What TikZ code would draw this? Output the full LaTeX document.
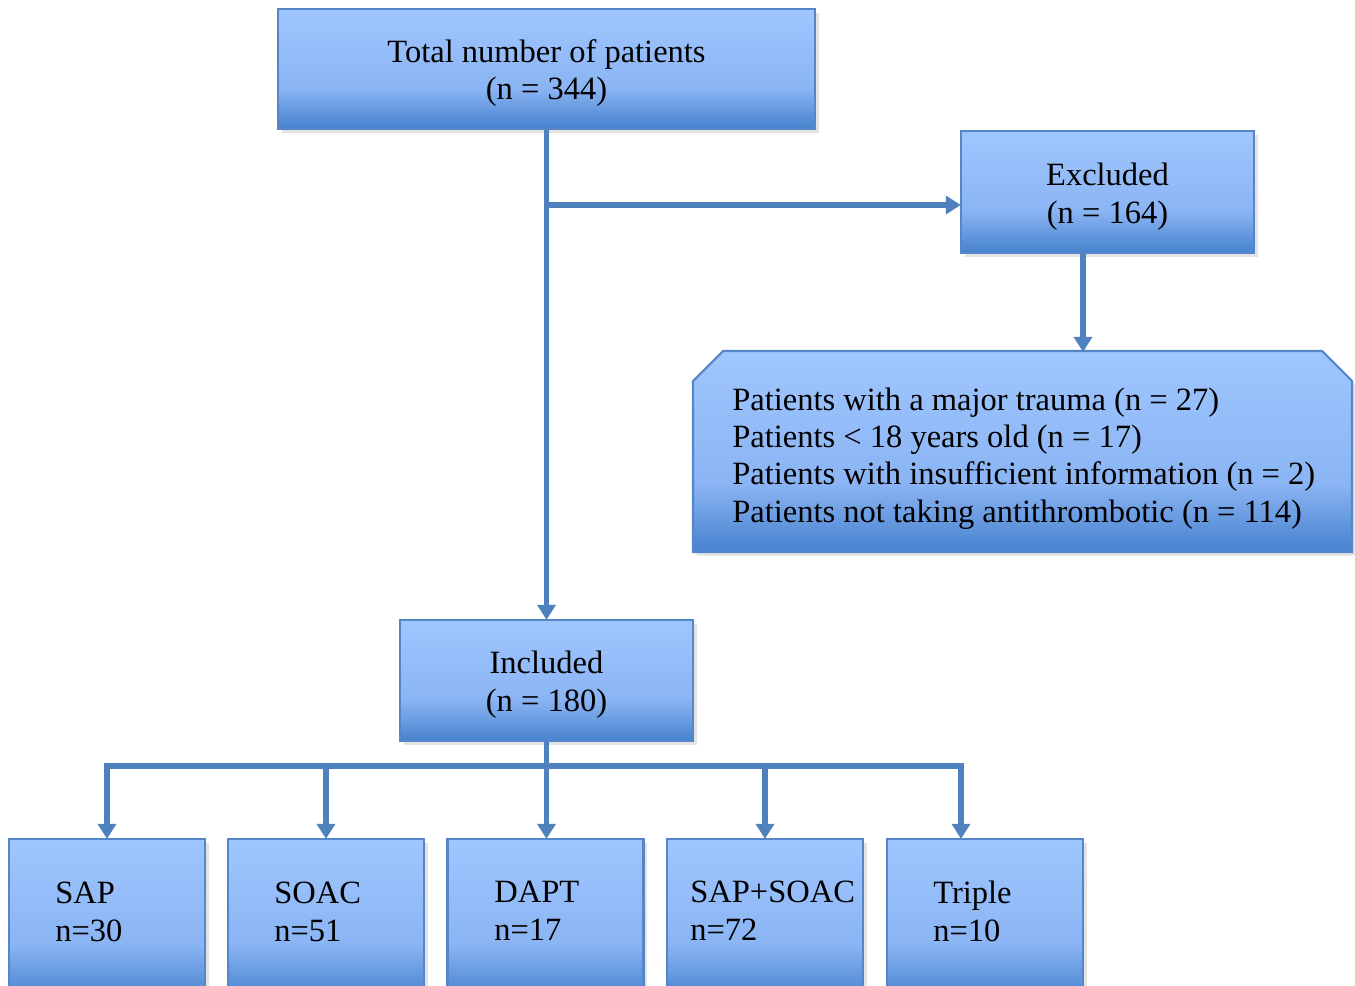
\documentclass[tikz,border=0pt]{standalone}
\usepackage{fontspec}
\setmainfont{Liberation Serif}
\usetikzlibrary{arrows.meta,shadows}
\definecolor{lineblue}{RGB}{79,129,189}
\definecolor{boxborder}{RGB}{85,135,200}
\definecolor{gtop}{RGB}{160,198,255}
\definecolor{gmid}{RGB}{138,180,243}
\definecolor{gbot}{RGB}{70,130,206}
\pgfdeclareverticalshading{boxshade}{100bp}{color(0bp)=(gbot); color(25bp)=(gbot); color(42bp)=(gmid); color(75bp)=(gtop); color(100bp)=(gtop)}
\tikzset{
  box/.style={draw=boxborder, line width=1.2pt, shading=boxshade, inner sep=0pt,
    drop shadow={opacity=0.22, shadow xshift=2pt, shadow yshift=-2pt}},
  txt/.style={font=\fontsize{18.5}{21.5}\selectfont, align=center, inner sep=0pt},
  ltxt/.style={font=\fontsize{18.5}{21.5}\selectfont, align=left, inner sep=0pt, anchor=west},
  conn/.style={draw=lineblue, line width=3.1pt},
  arr/.style={conn, -{Triangle[length=0.3cm,width=0.36cm]}, shorten >=-0.5pt}
}
\begin{document}
\begin{tikzpicture}[x=0.02cm,y=-0.02cm]
\useasboundingbox (0,0) rectangle (1355,986);
% boxes
\node[box, minimum width=537*0.02cm, minimum height=120*0.02cm] (total) at (546.5,69) {};
\node[txt] (totalT) at (546.5,73) {Total number of patients\\(n = 344)};
\node[box, minimum width=293*0.02cm, minimum height=122*0.02cm] (excl) at (1107.5,192) {};
\node[txt] (exclT) at (1107.5,197) {Excluded\\(n = 164)};
% chamfered list box
\coordinate (listN) at (1083,351);
\shadedraw[draw=boxborder, line width=1.2pt, shading=boxshade,
  drop shadow={opacity=0.22, shadow xshift=2pt, shadow yshift=-2pt}]
  (693,381) -- (723,351) -- (1322,351) -- (1352,381) -- (1352,552) -- (693,552) -- cycle;
\node[ltxt, font=\fontsize{18.5}{21.3}\selectfont] (listT) at (732,458.5) {Patients with a major trauma (n = 27)\\Patients < 18 years old (n = 17)\\Patients with insufficient information (n = 2)\\Patients not taking antithrombotic (n = 114)};
\node[box, minimum width=293*0.02cm, minimum height=121*0.02cm] (incl) at (546.5,680.5) {};
\node[txt] (inclT) at (546.5,685) {Included\\(n = 180)};
% bottom boxes
\foreach \n/\cx in {sap/107, soac/326, dapt/545.5, sapsoac/765, triple/985}{
  \node[box, minimum width=196*0.02cm, minimum height=160*0.02cm] (\n) at (\cx,919) {};
}
\node[ltxt] (sapT) at (55,912) {SAP\\n=30};
\node[ltxt] (soacT) at (274,912) {SOAC\\n=51};
\node[ltxt] (daptT) at (494,911) {DAPT\\n=17};
\node[ltxt] (sapsoacT) at (690,911) {SAP+SOAC\\n=72};
\node[ltxt] (tripleT) at (933,911) {Triple\\n=10};
% connectors
\coordinate (br) at (546.5,205);
\draw[arr] (total.south) -- (incl.north);
\draw[arr] (br) -- (br -| excl.west);
\coordinate (exd) at (1083,253);
\draw[arr] (exd) -- (listN);
\coordinate (bar) at (546.5,766);
\coordinate (barL) at (107,766);
\coordinate (barR) at (961,766);
\draw[conn] (incl.south) -- (bar);
\draw[conn, line cap=rect] (barL) -- (barR);
\draw[arr] (barL) -- (sap.north);
\draw[arr] (326,766) -- (soac.north);
\draw[arr] (bar) -- (bar |- dapt.north);
\draw[arr] (765,766) -- (sapsoac.north);
\draw[arr] (barR) -- (barR |- triple.north);
\end{tikzpicture}
\end{document}
